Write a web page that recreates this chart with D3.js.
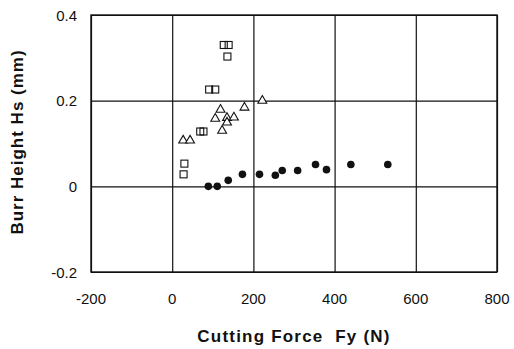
<!DOCTYPE html>
<html>
<head>
<meta charset="utf-8">
<script src="https://cdn.jsdelivr.net/npm/d3@7"></script>
<style>
  body { margin: 0; background: #fff; }
  text { font-family: "Liberation Sans", Arial, sans-serif; fill: #111; }
</style>
</head>
<body>
<svg id="canvas" width="514" height="349"></svg>
<script>
// tick values
let xTicks = [-200, 0, 200, 400, 600, 800];
let yTicks = [-0.2, 0, 0.2, 0.4];

// open squares
let squareX = [127, 139, 136, 91, 106, 69, 77, 30, 28];
let squareY = [0.330, 0.330, 0.303, 0.226, 0.226, 0.128, 0.128, 0.053, 0.028];

// open triangles
let triX = [27, 44, 106, 119, 135, 152, 135, 123, 178, 222];
let triY = [0.107, 0.107, 0.158, 0.179, 0.160, 0.161, 0.149, 0.130, 0.184, 0.200];

// filled circles
let dotX = [89, 111, 138, 173, 215, 254, 271, 309, 353, 380, 440, 531];
let dotY = [0, 0, 0.014, 0.028, 0.028, 0.026, 0.037, 0.037, 0.051, 0.039, 0.051, 0.051];

const svg = d3.select('#canvas');
const mLeft = 91, mRight = 497, mTop = 15, mBottom = 272;

const x = d3.scaleLinear().domain([-200, 800]).range([mLeft, mRight]);
const y = d3.scaleLinear().domain([-0.2, 0.4]).range([mBottom, mTop]);

// grid
svg.append('g')
    .attr('transform', `translate(0,${mBottom})`)
    .call(d3.axisBottom(x).tickValues(xTicks).tickSize(-(mBottom - mTop)).tickFormat(''))
    .call(g => g.select('.domain').remove())
    .selectAll('line').attr('stroke', '#111').attr('stroke-width', 1.2);

svg.append('g')
    .attr('transform', `translate(${mLeft},0)`)
    .call(d3.axisLeft(y).tickValues(yTicks).tickSize(-(mRight - mLeft)).tickFormat(''))
    .call(g => g.select('.domain').remove())
    .selectAll('line').attr('stroke', '#111').attr('stroke-width', 1.2);

svg.append('rect')
    .attr('x', mLeft).attr('y', mTop)
    .attr('width', mRight - mLeft).attr('height', mBottom - mTop)
    .attr('fill', 'none').attr('stroke', '#111').attr('stroke-width', 1.4);

// tick labels
svg.selectAll('.xlab')
    .data(xTicks)
    .join('text')
    .attr('x', d => x(d))
    .attr('y', 304)
    .attr('text-anchor', 'middle')
    .style('font-size', '15px')
    .text(d => d);

svg.selectAll('.ylab')
    .data(yTicks)
    .join('text')
    .attr('x', 77)
    .attr('y', d => y(d) + 5.5)
    .attr('text-anchor', 'end')
    .style('font-size', '15px')
    .text(d => d === 0 ? '0' : d);

// axis titles
svg.append('text')
    .attr('x', 294).attr('y', 342)
    .attr('text-anchor', 'middle')
    .style('font-size', '17px').style('font-weight', 'bold')
    .style('letter-spacing', '1.2px')
    .style('white-space', 'pre')
    .text('Cutting Force  Fy (N)');

svg.append('text')
    .attr('transform', 'translate(23,142) rotate(-90)')
    .attr('text-anchor', 'middle')
    .style('font-size', '17px').style('font-weight', 'bold')
    .style('letter-spacing', '1px')
    .text('Burr Height Hs (mm)');

// markers
svg.selectAll('.sq')
    .data(squareX)
    .join('rect')
    .attr('x', (d, i) => x(d) - 3.5)
    .attr('y', (d, i) => y(squareY[i]) - 3.5)
    .attr('width', 7).attr('height', 7)
    .attr('fill', 'none').attr('stroke', '#111').attr('stroke-width', 1.1);

const tri = d3.symbol().type(d3.symbolTriangle).size(34);
svg.selectAll('.tri')
    .data(triX)
    .join('path')
    .attr('d', tri)
    .attr('transform', (d, i) => `translate(${x(d)},${y(triY[i])})`)
    .attr('fill', 'white').attr('stroke', '#111').attr('stroke-width', 1.1);

svg.selectAll('.dot')
    .data(dotX)
    .join('circle')
    .attr('cx', d => x(d))
    .attr('cy', (d, i) => y(dotY[i]))
    .attr('r', 3.8)
    .attr('fill', '#111');
</script>
</body>
</html>
